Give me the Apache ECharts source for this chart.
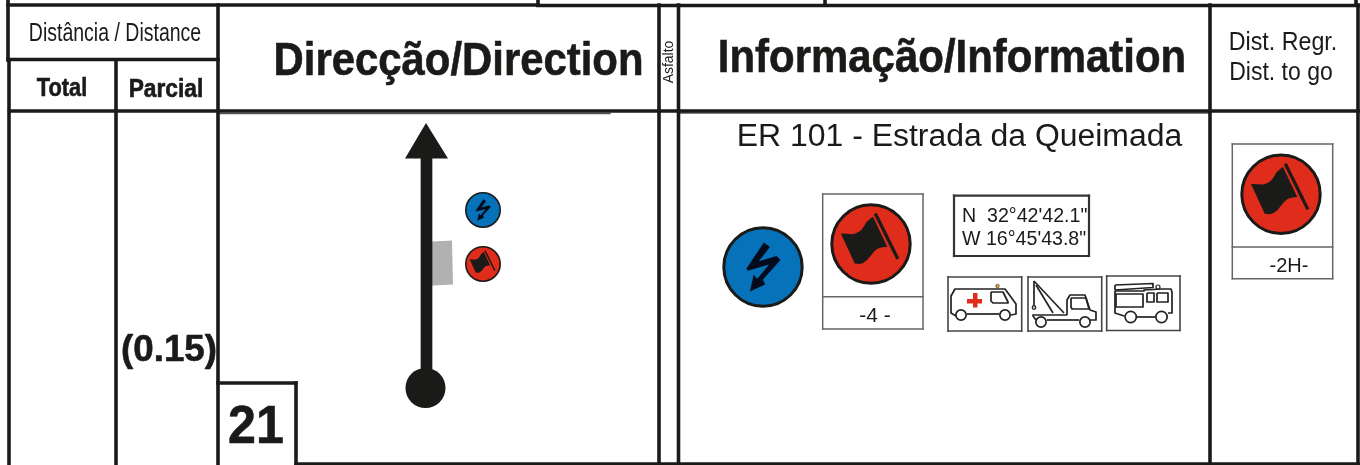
<!DOCTYPE html>
<html><head><meta charset="utf-8">
<style>html,body{margin:0;padding:0;background:#fff}#c{width:1360px;height:465px}</style>
<script src="https://cdn.jsdelivr.net/npm/echarts@6/dist/echarts.min.js"></script>
</head><body><div id="c"></div>
<script>
// --- sheet rules, in sheet units [x1,y1,x2,y2]
const heavyRules = [
 [8,0,8,60],[9,60,9,465],[8,5,538,5],[538,5.5,1360,5.5],
 [538,0,538,5],[825,0,825,5],[1356,0,1356,5],
 [8,59.5,218,59.5],[116,60,116,465],[218,5,218,465],[9.5,111,1360,111],
 [659,5,659,465],[678.5,5,678.5,465],[1210,5,1210,465],[1358,5,1358,465],
 [218,383,296,383],[296,383,296,465],[296,464,1360,464]
];
const lightRules = [[218,113.5,610,113.5],[678,113,1210,113]];
const stemRule = [[426.5,155,426.5,388]];
const signBoxRules = [
 [822.7,194,923,194],[923,194,923,329],[923,329,822.7,329],[822.7,329,822.7,194],[822.7,296.7,923,296.7],
 [1232.3,144,1332.7,144],[1332.7,144,1332.7,278.7],[1332.7,278.7,1232.3,278.7],[1232.3,278.7,1232.3,144],[1232.3,247,1332.7,247]
];
const vehicleBoxRules = [
 [948,277,1021.7,277],[1021.7,277,1021.7,331],[1021.7,331,948,331],[948,331,948,277],
 [1028,277,1101.7,277],[1101.7,277,1101.7,331],[1101.7,331,1028,331],[1028,331,1028,277],
 [1106.7,276,1180,276],[1180,276,1180,330.5],[1180,330.5,1106.7,330.5],[1106.7,330.5,1106.7,276]
];
const gpsRules = [[954,195.7,1089,195.7],[1089,195.7,1089,256],[1089,256,954,256],[954,256,954,195.7]];
// --- arrow and shoulder
const arrowHead = [[426,123],[448,158.5],[405,158.5]];
const shoulderPatch = [[432,241.5],[452,240.5],[453,284.5],[432,285.5]];
const startDot = [[425.5,388,20]];
// --- round road signs [cx,cy,outer radius]
const dangerSigns = [[483,264,18],[871,244,40.7],[1281,194.3,40.7]];
const powerSigns = [[483,210,18],[763,267,40.7]];
// --- unit-circle sign glyphs
const flagShape = [[-.74,-.26],[-.6,-.25],[-.44,-.24],[-.33,-.28],[-.24,-.34],[-.17,-.44],[-.11,-.54],[-.02,-.62],[.05,-.67],[.40,.065],[.28,.08],[.17,.11],[.08,.18],[.01,.27],[-.09,.39],[-.20,.47],[-.30,.49],[-.40,.48]];
const flagPole = [[.106,-.75],[.66,.37]];
const boltShape = [[.02,-.60],[.17,-.49],[-.10,-.14],[.33,-.27],[.43,-.17],[0,.31],[.05,.43],[-.32,.60],[-.23,.19],[-.14,.29],[.15,-.06],[-.37,.09],[-.41,.04]];
// --- vehicle pictograms, sheet units
const vehicleLines = [
 // ambulance
 [[956,316],[951,313],[951,296],[955,289],[1005,289],[1008,293],[1016,304],[1016,314],[1011,315]],
 [[967,314],[999,314]],
 [[991,292],[1003,292],[1008,302],[1008,303],[993,303],[991,301],[991,292]],
 // tow truck
 [[1036,320],[1033,316],[1033,315],[1067,315]],
 [[1047,320],[1079,320]],
 [[1067,315],[1067,300],[1070,295],[1085,295],[1090,310],[1096,312],[1096,320],[1090,320]],
 [[1071,298],[1086,298],[1089,309],[1072,309],[1071,307],[1071,298]],
 [[1034,281],[1034,305]],[[1034,281],[1064,313]],[[1036,285],[1053,313]],
 // fire engine
 [[1115,285],[1153,283.5],[1153,287.5],[1115,290],[1115,285]],
 [[1115,291],[1144,291],[1144,290],[1162,289],[1171,289],[1172,292],[1172,313],[1168,313]],
 [[1115,291],[1115,313],[1124,316]],[[1137,317],[1155,317]],
 [[1116,294],[1143,294],[1143,307],[1116,307],[1116,294]],
 [[1147,293],[1154,293],[1154,302],[1147,302],[1147,293]],
 [[1157,293],[1168,293],[1168,302],[1157,302],[1157,293]]
];
const vehicleWheels = [[961,315,6],[1005,315,6],[1041,322,6],[1085,322,6],[1130.7,317,6.5],[1161.5,317,6.5]];
const towHook = [[1034,307.5,2.4]];
const ambulanceCross = [[967,299],[973,299],[973,293],[977.5,293],[977.5,299],[982,299],[982,303.5],[977.5,303.5],[977.5,307.5],[973,307.5],[973,303.5],[967,303.5]];
const ambulanceBeacon = [[997.5,286,2.1]];
const fireBeacon = [[1158,287,2.6]];
// --- labels
const labelText = ['Distância / Distance','Total','Parcial','Direcção/Direction','Asfalto','Informação/Information','Dist. Regr.','Dist. to go','ER 101 - Estrada da Queimada','N  32°42\'42.1"','W 16°45\'43.8"','-4 -','-2H-','(0.15)','21'];
const labelX = [115,62,166,458.5,669,952,1283,1281,959.5,962,962,875,1289,169,256];
const labelY = [34.5,89.5,90.5,62.5,62,59,43,73,137,216,239,316,266,351,428];
const labelSize = [25,25,25,46,15,46,25,25,31,20,20,21,20,36,54];
const labelBold = [0,1,1,1,0,1,0,0,0,0,0,0,0,1,1];
const labelSqueeze = [.78,.87,.91,.91,.93,.912,.93,.92,1.03,.98,.98,1,1,1.02,.93];
const labelAlign = ['center','center','center','center','center','center','center','center','center','left','left','center','center','center','center'];
const labelTurn = [0,0,0,0,90,0,0,0,0,0,0,0,0,0,0];

const INK='#1a1a18', GREY='#666';
const ruleSeries=(rows,width,color)=>({type:'custom',clip:false,silent:true,data:rows,
 renderItem(p,api){const a=api.coord([api.value(0),api.value(1)]),b=api.coord([api.value(2),api.value(3)]);
  return {type:'line',shape:{x1:a[0],y1:a[1],x2:b[0],y2:b[1]},style:{stroke:color,lineWidth:width,lineCap:'square'}};}});
const polySeries=(shape,fill)=>({type:'custom',clip:false,silent:true,data:[[shape[0][0],shape[0][1]]],
 renderItem(p,api){return {type:'polygon',shape:{points:shape.map(q=>api.coord(q))},style:{fill}};}});
const discSeries=(rows,fill,stroke,width)=>({type:'custom',clip:false,silent:true,data:rows,
 renderItem(p,api){const c=api.coord([api.value(0),api.value(1)]),r=api.size([api.value(2),0])[0],w=width(r);
  return {type:'circle',shape:{cx:c[0],cy:c[1],r:r-w/2},style:{fill,stroke,lineWidth:w}};}});
const glyphSeries=(rows,shape,fill,pole)=>({type:'custom',clip:false,silent:true,data:rows,
 renderItem(p,api){const cx=api.value(0),cy=api.value(1),r=api.value(2);
  const m=q=>api.coord([cx+q[0]*r,cy+q[1]*r]);
  const kids=[{type:'polygon',shape:{points:shape.map(m)},style:{fill}}];
  if(pole){const a=m(pole[0]),b=m(pole[1]);kids.push({type:'line',shape:{x1:a[0],y1:a[1],x2:b[0],y2:b[1]},style:{stroke:fill,lineWidth:r*0.08}});}
  return {type:'group',children:kids};}});
const pathSeries=(rows,color,width)=>({type:'custom',clip:false,silent:true,data:rows.map(r=>r[0]),
 renderItem(p,api){return {type:'polyline',shape:{points:rows[p.dataIndex].map(q=>api.coord(q))},style:{stroke:color,fill:'none',lineWidth:width,lineJoin:'round'}};}});
const textSeries={type:'custom',clip:false,silent:true,data:labelText.map((t,i)=>[labelX[i],labelY[i]]),
 renderItem(p,api){const i=p.dataIndex,c=api.coord([api.value(0),api.value(1)]);
  return {type:'text',x:c[0],y:c[1],scaleX:labelSqueeze[i],rotation:labelTurn[i]*Math.PI/180,
   style:{text:labelText[i],fill:INK,stroke:labelBold[i]?INK:'none',lineWidth:labelBold[i]?0.6:0,textAlign:labelAlign[i],textVerticalAlign:'middle',
    font:(labelBold[i]?'bold ':'')+labelSize[i]+'px "Liberation Sans", Arial, sans-serif'}};}};

const chart=echarts.init(document.getElementById('c'),null,{renderer:'canvas'});
chart.setOption({animation:false,backgroundColor:'#fff',
 grid:{left:0,right:0,top:0,bottom:0},
 xAxis:{type:'value',min:0,max:1360,show:false},
 yAxis:{type:'value',min:0,max:465,inverse:true,show:false},
 tooltip:{show:false},
 series:[
  polySeries(shoulderPatch,'#b0b1b0'),
  ruleSeries(lightRules,1.5,'#555'),
  ruleSeries(heavyRules,3.6,INK),
  ruleSeries(stemRule,11.7,INK),
  polySeries(arrowHead,INK),
  discSeries(startDot,INK,INK,()=>0),
  ruleSeries(signBoxRules,1.5,GREY),
  ruleSeries(vehicleBoxRules,1.6,'#444'),
  ruleSeries(gpsRules,2.2,'#333'),
  discSeries(powerSigns,'#0672ba',INK,r=>r>30?3:1.6),
  discSeries(dangerSigns,'#e02d1b',INK,r=>r>30?3:1.6),
  glyphSeries(dangerSigns,flagShape,INK,flagPole),
  glyphSeries(powerSigns,boltShape,'#020b1e'),
  pathSeries(vehicleLines,'#222',1.7),
  discSeries(vehicleWheels,'#fff','#222',()=>1.7),
  discSeries(towHook,'#bbb','#222',()=>1.2),
  polySeries(ambulanceCross,'#e02d1b'),
  discSeries(ambulanceBeacon,'#e8a020','#444',()=>.7),
  discSeries(fireBeacon,'#fff','#222',()=>1.2),
  textSeries
 ]});
</script></body></html>
